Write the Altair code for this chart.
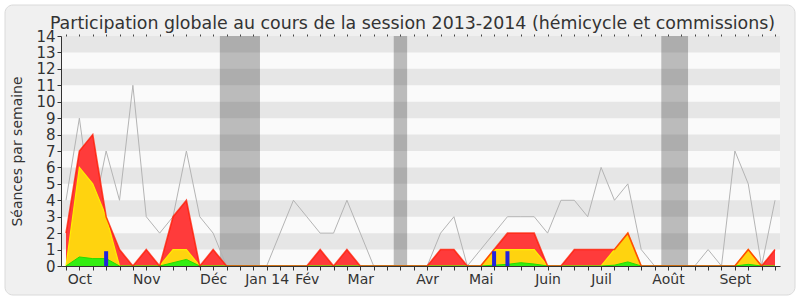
import altair as alt
import pandas as pd

# ---- data ----
weeks = list(range(54))
median_line = [4, 9, 3, 7, 4, 11, 3, 2, 3, 7, 3, 2, 0, 0, 0, 0, 2, 4, 3, 2,
               2, 4, 2, 0, 0, 0, 0, 0, 2, 3, 0, 1, 2, 3, 3, 3, 2, 4, 4, 3,
               6, 4, 5, 1, 0, 0, 0, 0, 1, 0, 7, 5, 0, 4]
presence = [2, 7, 8, 3, 1, 0, 1, 0, 3, 4, 0, 1, 0, 0, 0, 0, 0, 0, 0, 1,
            0, 1, 0, 0, 0, 0, 0, 0, 1, 1, 0, 0, 1, 2, 2, 2, 0, 0, 1, 1,
            1, 1, 2, 0, 0, 0, 0, 0, 0, 0, 0, 1, 0, 1]
participation = [0, 6, 5, 3, 0, 0, 0, 0, 1, 1, 0, 0, 0, 0, 0, 0, 0, 0, 0, 0,
                 0, 0, 0, 0, 0, 0, 0, 0, 0, 0, 0, 0, 1, 1, 1, 1, 0, 0, 0, 0,
                 0, 1, 2, 0, 0, 0, 0, 0, 0, 0, 0, 1, 0, 0]
interventions = [0, 0.55, 0.45, 0.45, 0, 0, 0, 0, 0.2, 0.4, 0, 0, 0, 0, 0, 0, 0, 0, 0, 0,
                 0, 0, 0, 0, 0, 0, 0, 0, 0, 0, 0, 0, 0.05, 0.1, 0.2, 0.12, 0, 0, 0, 0,
                 0, 0.05, 0.25, 0, 0, 0, 0, 0, 0, 0, 0, 0.1, 0, 0]
question_weeks = [3, 32, 33]
question_vals = [0.9, 0.9, 0.9]
month_weeks = [1, 6, 11, 15, 18, 22, 27, 31, 36, 40, 45, 50]
month_labels = ["Oct", "Nov", "Déc", "Jan 14", "Fév", "Mar", "Avr", "Mai",
                "Juin", "Juil", "Août", "Sept"]
vac_start = [11.5, 24.5, 44.5]
vac_end = [14.5, 25.5, 46.5]
stripe_lo = [1, 3, 5, 7, 9, 11, 13]
y_ticks = list(range(15))

W, H = 719, 230
FONT = "DejaVu Sans"
TXT = "#333333"

df = pd.DataFrame({"w": weeks, "med": median_line, "pres": presence,
                   "part": participation, "inter": interventions})
qdf = pd.DataFrame({"w": question_weeks, "v": question_vals})
vdf = pd.DataFrame({"s": vac_start, "e": vac_end})
sdf = pd.DataFrame({"lo": stripe_lo, "hi": [v + 1 for v in stripe_lo]})

xs = alt.Scale(domain=[0, 53], nice=False, zero=False)
ys = alt.Scale(domain=[0, 14], nice=False)

label_expr = "".join(f"datum.value == {w} ? '{l}' : " for w, l in zip(month_weeks, month_labels)) + "''"

x_bottom = alt.Axis(values=weeks, labelExpr=label_expr, tickSize=4, tickColor=TXT,
                    domainColor=TXT, labelColor=TXT, labelFont=FONT, labelFontSize=14,
                    labelPadding=2, labelOverlap=False, grid=False, title=None,
                    labelFlush=False, zindex=2)
x_top = alt.Axis(values=weeks, orient="top", labels=False, domain=False, tickSize=2,
                 tickColor="#444444", grid=False, title=None, zindex=2)
y_axis = alt.Axis(values=y_ticks, tickSize=4, tickColor=TXT, domainColor=TXT,
                  labelColor=TXT, labelFont=FONT, labelFontSize=15, labelPadding=2,
                  grid=False, title="Séances par semaine", titleFont=FONT,
                  titleFontSize=14, titleFontWeight="normal", titleColor=TXT,
                  titlePadding=11, zindex=2)

one = pd.DataFrame({"a": [0]})
frame = alt.Chart(one).mark_rect(fill="#F0F0F0", stroke="#DADADA", strokeWidth=1,
                                 cornerRadius=8, clip=False).encode(
    x=alt.value(-56), x2=alt.value(734), y=alt.value(-31), y2=alt.value(259))
plotbg = alt.Chart(one).mark_rect(fill="#FAFAFA").encode(
    x=alt.value(0), x2=alt.value(W), y=alt.value(0), y2=alt.value(H))

stripes = alt.Chart(sdf).mark_rect(fill="#E6E6E6").encode(
    x=alt.value(0), x2=alt.value(W),
    y=alt.Y("lo:Q", scale=ys, axis=y_axis), y2="hi:Q")

vac = alt.Chart(vdf).mark_rect(fill="#2A2A2A", opacity=0.3).encode(
    x=alt.X("s:Q", scale=xs, axis=x_bottom), x2="e:Q",
    y=alt.value(0), y2=alt.value(H))

base = alt.Chart(df)
med = base.mark_line(color="#B4B4B4", strokeWidth=1).encode(
    x=alt.X("w:Q", scale=xs, axis=x_top), y=alt.Y("med:Q", scale=ys, axis=None))
red = base.mark_area(color="#FF3B3B", opacity=1).encode(
    x=alt.X("w:Q", scale=xs, axis=None), y=alt.Y("pres:Q", scale=ys, axis=None))
yel = base.mark_area(color="#FFD30F", opacity=1,
                     line={"color": "#FFEE00", "strokeWidth": 1.2}).encode(
    x=alt.X("w:Q", scale=xs, axis=None), y=alt.Y("part:Q", scale=ys, axis=None))
grn = base.mark_area(color="#33EE11", opacity=1,
                     line={"color": "#22DD00", "strokeWidth": 1}).encode(
    x=alt.X("w:Q", scale=xs, axis=None), y=alt.Y("inter:Q", scale=ys, axis=None))
red_line = base.mark_line(color="#FF1A00", strokeWidth=1.6, opacity=0.75).encode(
    x=alt.X("w:Q", scale=xs, axis=None), y=alt.Y("pres:Q", scale=ys, axis=None))
blue = alt.Chart(qdf).mark_bar(color="#2222DD", size=4).encode(
    x=alt.X("w:Q", scale=xs, axis=None), y=alt.Y("v:Q", scale=ys, axis=None))

chart = alt.layer(frame, plotbg, stripes, vac, med, red, yel, grn, red_line, blue).resolve_axis(
    x="independent", y="independent"
).properties(
    width=W, height=H,
    autosize=alt.AutoSizeParams(type="none"),
    padding={"left": 61, "top": 36, "right": 20, "bottom": 34},
    title=alt.TitleParams(
        "Participation globale au cours de la session 2013-2014 (hémicycle et commissions)",
        font=FONT, fontSize=17.4, fontWeight="normal", color=TXT, anchor="middle",
        frame="group", baseline="alphabetic", dx=-8, offset=-42, zindex=2),
).configure(background="#FFFFFF").configure_view(stroke="#D0D0D0", strokeWidth=1)

chart.save("out.html", embed_options={"renderer": "svg", "actions": False})
